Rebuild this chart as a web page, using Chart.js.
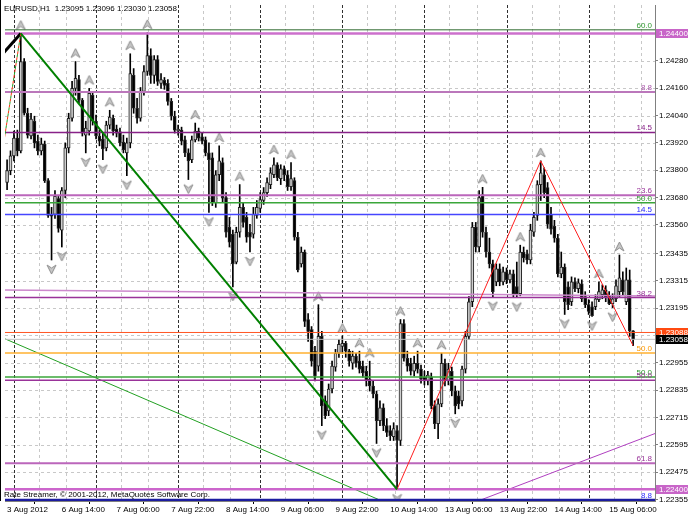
<!DOCTYPE html>
<html>
<head>
<meta charset="utf-8">
<script src="https://cdn.jsdelivr.net/npm/chart.js@4.4.1/dist/chart.umd.min.js"></script>
<style>
  html, body { margin: 0; padding: 0; background: #fff; }
  canvas { display: block; }
</style>
</head>
<body>
<canvas id="chart" width="688" height="516"></canvas>
<script>
// EURUSD H1, one entry per hourly bar (bar index 0 = 3 Aug 2012 22:00)
const opens = [
  1.23746, 1.23798, 1.23863, 1.23941, 1.23885, 1.24277, 1.24050, 1.23950, 1.24015, 1.23928,
  1.23885, 1.23915, 1.23754, 1.23606, 1.23606, 1.23676, 1.23537, 1.23711, 1.23898, 1.24028,
  1.24159, 1.24198, 1.24107, 1.23954, 1.23972, 1.24129, 1.24015, 1.23950, 1.23937, 1.23898,
  1.23998, 1.24028, 1.23981, 1.23967, 1.23924, 1.23876, 1.23920, 1.24216, 1.24072, 1.24028,
  1.24146, 1.24233, 1.24303, 1.24216, 1.24285, 1.24181, 1.24194, 1.24181, 1.24102, 1.24037,
  1.23972, 1.23976, 1.23933, 1.23876, 1.23846, 1.23933, 1.23972, 1.23946, 1.23933, 1.23876,
  1.23854, 1.23658, 1.23780, 1.23833, 1.23680, 1.23550, 1.23519, 1.23397, 1.23528, 1.23637,
  1.23593, 1.23528, 1.23519, 1.23602, 1.23632, 1.23667, 1.23702, 1.23737, 1.23780, 1.23824,
  1.23763, 1.23806, 1.23780, 1.23728, 1.23754, 1.23506, 1.23389, 1.23441, 1.23145, 1.23101,
  1.23006, 1.22940, 1.23071, 1.22788, 1.22744, 1.22840, 1.22936, 1.22997, 1.23027, 1.23040,
  1.23006, 1.22953, 1.22984, 1.22962, 1.22940, 1.22918, 1.22884, 1.22853, 1.22818, 1.22701,
  1.22757, 1.22679, 1.22657, 1.22631, 1.22657, 1.22614, 1.23127, 1.22975, 1.22953, 1.22918,
  1.22953, 1.22927, 1.22892, 1.22875, 1.22892, 1.22766, 1.22688, 1.22775, 1.22953, 1.22875,
  1.22918, 1.22831, 1.22810, 1.22788, 1.22927, 1.23071, 1.23223, 1.23550, 1.23463, 1.23693,
  1.23528, 1.23441, 1.23389, 1.23310, 1.23367, 1.23310, 1.23354, 1.23319, 1.23345, 1.23289,
  1.23258, 1.23441, 1.23432, 1.23406, 1.23528, 1.23602, 1.23737, 1.23780, 1.23724, 1.23606,
  1.23554, 1.23502, 1.23345, 1.23375, 1.23288, 1.23223, 1.23310, 1.23280, 1.23302, 1.23245,
  1.23210, 1.23201, 1.23201, 1.23232, 1.23254, 1.23275, 1.23249, 1.23214, 1.23236, 1.23267,
  1.23319, 1.23223, 1.23319, 1.23095
];
const highs = [
  1.23846, 1.23885, 1.23972, 1.23976, 1.24400, 1.24290, 1.24072, 1.24050, 1.24037, 1.23954,
  1.23941, 1.23928, 1.23763, 1.23637, 1.23711, 1.23685, 1.23724, 1.23920, 1.24050, 1.24190,
  1.24277, 1.24216, 1.24115, 1.24015, 1.24159, 1.24146, 1.24042, 1.23976, 1.23963, 1.24015,
  1.24063, 1.24042, 1.23998, 1.23985, 1.23954, 1.23941, 1.24311, 1.24246, 1.24115, 1.24163,
  1.24259, 1.24403, 1.24333, 1.24303, 1.24303, 1.24224, 1.24207, 1.24198, 1.24115, 1.24059,
  1.23998, 1.23989, 1.23950, 1.23894, 1.23950, 1.24007, 1.23985, 1.23963, 1.23946, 1.23920,
  1.23876, 1.23798, 1.23907, 1.23854, 1.23702, 1.23593, 1.23537, 1.23550, 1.23737, 1.23658,
  1.23615, 1.23563, 1.23637, 1.23667, 1.23702, 1.23724, 1.23767, 1.23811, 1.23854, 1.23833,
  1.23824, 1.23819, 1.23798, 1.23833, 1.23767, 1.23528, 1.23463, 1.23450, 1.23171, 1.23114,
  1.23027, 1.23210, 1.23093, 1.22810, 1.22862, 1.22962, 1.23014, 1.23058, 1.23071, 1.23049,
  1.23014, 1.23006, 1.22997, 1.23006, 1.22962, 1.22940, 1.22962, 1.22875, 1.22831, 1.22788,
  1.22775, 1.22710, 1.22679, 1.22692, 1.22679, 1.23145, 1.23145, 1.23006, 1.22975, 1.22984,
  1.23006, 1.22945, 1.22918, 1.22918, 1.22910, 1.22788, 1.22797, 1.22997, 1.22971, 1.22953,
  1.22936, 1.22853, 1.22831, 1.22940, 1.23093, 1.23245, 1.23571, 1.23571, 1.23711, 1.23725,
  1.23550, 1.23502, 1.23406, 1.23389, 1.23389, 1.23375, 1.23371, 1.23362, 1.23362, 1.23397,
  1.23471, 1.23463, 1.23450, 1.23563, 1.23615, 1.23754, 1.23841, 1.23811, 1.23746, 1.23637,
  1.23580, 1.23519, 1.23441, 1.23389, 1.23310, 1.23332, 1.23328, 1.23323, 1.23319, 1.23267,
  1.23232, 1.23223, 1.23254, 1.23310, 1.23297, 1.23293, 1.23267, 1.23258, 1.23319, 1.23428,
  1.23354, 1.23371, 1.23362, 1.23096
];
const lows = [
  1.23715, 1.23780, 1.23841, 1.23863, 1.23876, 1.24042, 1.23941, 1.23937, 1.23898, 1.23867,
  1.23867, 1.23746, 1.23593, 1.23406, 1.23589, 1.23528, 1.23463, 1.23680, 1.23876, 1.24015,
  1.24129, 1.24094, 1.23950, 1.23876, 1.23954, 1.23998, 1.23937, 1.23907, 1.23846, 1.23885,
  1.23981, 1.23954, 1.23946, 1.23907, 1.23876, 1.23776, 1.23898, 1.24050, 1.24007, 1.24015,
  1.24129, 1.24216, 1.24181, 1.24181, 1.24172, 1.24159, 1.24155, 1.24085, 1.24020, 1.23963,
  1.23954, 1.23911, 1.23859, 1.23759, 1.23833, 1.23924, 1.23928, 1.23915, 1.23863, 1.23615,
  1.23645, 1.23637, 1.23754, 1.23658, 1.23506, 1.23463, 1.23288, 1.23389, 1.23506, 1.23550,
  1.23484, 1.23441, 1.23502, 1.23589, 1.23615, 1.23650, 1.23685, 1.23719, 1.23767, 1.23754,
  1.23737, 1.23754, 1.23711, 1.23711, 1.23493, 1.23354, 1.23375, 1.23114, 1.23049, 1.22940,
  1.22875, 1.22918, 1.22679, 1.22710, 1.22723, 1.22823, 1.22918, 1.22979, 1.22997, 1.22979,
  1.22940, 1.22927, 1.22936, 1.22910, 1.22892, 1.22853, 1.22831, 1.22801, 1.22601, 1.22679,
  1.22657, 1.22631, 1.22614, 1.22614, 1.22400, 1.22592, 1.22962, 1.22918, 1.22901, 1.22897,
  1.22910, 1.22866, 1.22858, 1.22858, 1.22753, 1.22666, 1.22622, 1.22762, 1.22853, 1.22858,
  1.22810, 1.22731, 1.22753, 1.22766, 1.22910, 1.23058, 1.23201, 1.23441, 1.23441, 1.23506,
  1.23419, 1.23371, 1.23245, 1.23293, 1.23293, 1.23297, 1.23302, 1.23306, 1.23245, 1.23241,
  1.23249, 1.23397, 1.23389, 1.23389, 1.23510, 1.23580, 1.23667, 1.23680, 1.23545, 1.23519,
  1.23484, 1.23332, 1.23328, 1.23167, 1.23188, 1.23206, 1.23267, 1.23262, 1.23223, 1.23197,
  1.23167, 1.23158, 1.23188, 1.23223, 1.23236, 1.23223, 1.23210, 1.23197, 1.23223, 1.23245,
  1.23249, 1.23210, 1.23071, 1.23030
];
const closes = [
  1.23798, 1.23863, 1.23941, 1.23885, 1.24277, 1.24050, 1.23954, 1.24024, 1.23920, 1.23885,
  1.23915, 1.23754, 1.23602, 1.23598, 1.23685, 1.23545, 1.23711, 1.23898, 1.24028, 1.24159,
  1.24203, 1.24107, 1.23963, 1.23985, 1.24137, 1.24015, 1.23950, 1.23928, 1.23894, 1.23998,
  1.24033, 1.23972, 1.23963, 1.23920, 1.23889, 1.23920, 1.24224, 1.24072, 1.24028, 1.24146,
  1.24233, 1.24303, 1.24216, 1.24285, 1.24190, 1.24198, 1.24172, 1.24102, 1.24037, 1.23976,
  1.23981, 1.23928, 1.23876, 1.23841, 1.23933, 1.23972, 1.23941, 1.23928, 1.23876, 1.23846,
  1.23658, 1.23780, 1.23841, 1.23680, 1.23528, 1.23484, 1.23389, 1.23528, 1.23637, 1.23571,
  1.23506, 1.23506, 1.23606, 1.23637, 1.23671, 1.23702, 1.23746, 1.23789, 1.23824, 1.23767,
  1.23806, 1.23780, 1.23728, 1.23763, 1.23506, 1.23362, 1.23441, 1.23136, 1.23093, 1.22962,
  1.22897, 1.23071, 1.22766, 1.22723, 1.22840, 1.22940, 1.22997, 1.23036, 1.23040, 1.23006,
  1.22962, 1.22984, 1.22953, 1.22927, 1.22910, 1.22875, 1.22853, 1.22818, 1.22701, 1.22757,
  1.22679, 1.22649, 1.22635, 1.22666, 1.22614, 1.23127, 1.22975, 1.22940, 1.22918, 1.22953,
  1.22927, 1.22884, 1.22875, 1.22901, 1.22766, 1.22688, 1.22775, 1.22953, 1.22875, 1.22927,
  1.22831, 1.22766, 1.22775, 1.22927, 1.23071, 1.23223, 1.23550, 1.23463, 1.23680, 1.23528,
  1.23441, 1.23389, 1.23267, 1.23367, 1.23310, 1.23354, 1.23319, 1.23345, 1.23258, 1.23258,
  1.23441, 1.23415, 1.23406, 1.23537, 1.23593, 1.23737, 1.23789, 1.23702, 1.23563, 1.23541,
  1.23502, 1.23345, 1.23375, 1.23223, 1.23210, 1.23310, 1.23280, 1.23306, 1.23236, 1.23210,
  1.23180, 1.23162, 1.23236, 1.23267, 1.23275, 1.23241, 1.23214, 1.23236, 1.23293, 1.23328,
  1.23267, 1.23319, 1.23095, 1.23058
];

// fractal arrows (bar indices)
const upFractals = [4, 20, 24, 30, 36, 41, 55, 62, 68, 78, 83, 91, 98, 103, 106, 115, 120, 127, 139, 150, 156, 173, 179];
const downFractals = [13, 16, 23, 28, 35, 53, 59, 66, 71, 92, 108, 114, 131, 142, 149, 163, 171, 177];

// time axis
const tickBars = [0, 16, 32, 48, 64, 80, 96, 112, 128, 144, 160, 176];
const dateLabels = ['3 Aug 2012', '6 Aug 14:00', '7 Aug 06:00', '7 Aug 22:00', '8 Aug 14:00', '9 Aug 06:00',
  '9 Aug 22:00', '10 Aug 14:00', '13 Aug 06:00', '13 Aug 22:00', '14 Aug 14:00', '15 Aug 06:00'];
const daySeparators = [2, 26, 50, 74, 98, 122, 146, 170];
const gridBars = [9.3, 17.3, 33.3, 41.3, 57.3, 65.3, 81.3, 89.3, 105.3, 113.3, 129.3, 137.3, 153.3, 161.3, 177.3, 185.3];

// price axis
const priceTicks = [1.24280, 1.24160, 1.24040, 1.23920, 1.23800, 1.23680, 1.23560, 1.23435, 1.23315,
  1.23195, 1.23075, 1.22955, 1.22835, 1.22715, 1.22595, 1.22475, 1.22355];

// horizontal levels and their tags
const levelPrices = [1.24416, 1.24400, 1.24143, 1.23966, 1.23690, 1.23657, 1.23606, 1.23241, 1.23088,
  1.23058, 1.22998, 1.22893, 1.22878, 1.22514, 1.22400, 1.22353];
const levelTags = ['60.0', '', '8.8', '14.5', '23.6', '50.0', '14.5', '38.2', '', '', '50.0', '50.0', '50.0', '61.8', '', '8.8'];

// price boxes on the axis
const boxPrices = [1.24400, 1.23088, 1.23058, 1.22400];

// drawn trend lines [bar, price]
const mainTrend = [[4, 1.24400], [114, 1.22400]];
const zigzag = [[114, 1.22400], [156, 1.23841], [183, 1.23030]];
const thinGreen = [[-0.9, 1.23062], [112, 1.22333]];
const thinPurple = [[136, 1.22339], [190, 1.22648]];
const slopedLilac = [[-0.9, 1.23274], [189.4, 1.23248]];
const blackLeg = [[-1, 1.24316], [4, 1.24400]];
const dashedLeg = [[-1, 1.23919], [4, 1.24400]];

// styles
const levelColors = ['#2f6a2f', '#cc70cc', '#bb77bb', '#882288', '#bb66bb', '#3aa63a', '#4646ff', '#993399',
  '#ff5522', '#c0c0c0', '#ffb030', '#3aa63a', '#993399', '#bb66bb', '#cc66cc', '#1c1ca0'];
const levelWidths = [1, 2.5, 2, 1.5, 2, 1.5, 1.5, 1.5, 1, 1, 1.5, 1.5, 1.5, 2, 2.5, 2.5];
const tagColors = ['#2f9a2f', '#aa55aa', '#aa55aa', '#882288', '#993399', '#2f9a2f', '#2a2aff', '#993399',
  '', '', '#ff9900', '#2f9a2f', '#993399', '#993399', '', '#2a2aff'];
const boxColors = ['#c865c8', '#ff4a10', '#000000', '#c865c8'];

Chart.defaults.font.family = 'Liberation Sans';
Chart.defaults.font.size = 8;
Chart.defaults.color = '#000';

const pts = arr => arr.map(p => ({ x: p[0], y: p[1] }));

function arrowGlyph(up, gap) {
  const c = document.createElement('canvas');
  c.width = 11;
  c.height = (gap + 7) * 2;
  const g = c.getContext('2d');
  const cx = 5.5, cy = up ? c.height / 2 - gap : c.height / 2 + gap;
  const s = up ? 1 : -1;
  g.beginPath();
  g.moveTo(cx, cy - 5 * s);
  g.lineTo(cx + 4.5, cy + 4 * s);
  g.lineTo(cx, cy + 1 * s);
  g.lineTo(cx - 4.5, cy + 4 * s);
  g.closePath();
  g.fillStyle = '#c8c8c8';
  g.fill();
  g.strokeStyle = '#8c8c8c';
  g.lineWidth = 1;
  g.stroke();
  return c;
}

function lineSet(data, color, width, extra) {
  return Object.assign({
    type: 'line', data: data, borderColor: color, borderWidth: width,
    pointRadius: 0, fill: false, tension: 0, order: 2
  }, extra || {});
}

// no extra room for the outer tick labels
function noPadding(axis) {
  axis.paddingTop = 0;
  axis.paddingBottom = 0;
  axis.paddingLeft = 0;
  axis.paddingRight = 0;
}

const datasets = [];

// candles: wicks + bodies
datasets.push({
  type: 'bar',
  data: highs.map((h, i) => ({ x: i, y: [lows[i], h] })),
  backgroundColor: '#000',
  barThickness: 1,
  grouped: false,
  minBarLength: 1,
  order: 11
});
datasets.push({
  type: 'bar',
  data: opens.map((o, i) => ({ x: i, y: [o, closes[i]] })),
  backgroundColor: ctx => closes[ctx.dataIndex] > opens[ctx.dataIndex] ? '#cfcfcf' : '#000',
  borderColor: '#222',
  borderWidth: 1,
  borderSkipped: false,
  barThickness: 3,
  grouped: false,
  minBarLength: 1,
  order: 10
});

// fractal arrows
datasets.push({
  type: 'line', showLine: false, order: 5,
  data: upFractals.map(i => ({ x: i, y: highs[i] })),
  pointStyle: arrowGlyph(true, 8), pointRadius: 3
});
datasets.push({
  type: 'line', showLine: false, order: 5,
  data: downFractals.map(i => ({ x: i, y: lows[i] })),
  pointStyle: arrowGlyph(false, 9), pointRadius: 3
});

// horizontal levels
levelPrices.forEach((p, k) => {
  datasets.push(lineSet([{ x: -1, y: p }, { x: 191, y: p }], levelColors[k], levelWidths[k]));
});

// trend lines
datasets.push(lineSet(pts(slopedLilac), '#cc88cc', 1.5));
datasets.push(lineSet(pts(thinGreen), '#22a022', 1));
datasets.push(lineSet(pts(thinPurple), '#b040c0', 1));
datasets.push(lineSet(pts(mainTrend), '#008000', 2, { order: 1 }));
datasets.push(lineSet(pts(zigzag), '#ff2020', 1, { order: 1 }));
datasets.push(lineSet(pts(dashedLeg), '#22a022', 1, { borderDash: [3, 3], borderDashOffset: 3, order: 1 }));
datasets.push(lineSet(pts(dashedLeg), '#ff3010', 1, { borderDash: [3, 3], order: 1 }));
datasets.push(lineSet(pts(blackLeg), '#000', 3, { order: 1 }));

const mtPlugin = {
  id: 'mt',
  beforeDraw(chart) {
    const ctx = chart.ctx;
    ctx.save();
    ctx.fillStyle = '#fff';
    ctx.fillRect(0, 0, chart.width, chart.height);
    ctx.restore();
  },
  beforeDatasetsDraw(chart) {
    const { ctx, chartArea: a, scales: { x, y } } = chart;
    ctx.save();
    ctx.lineWidth = 1;
    ctx.strokeStyle = '#c8c8c8';
    ctx.setLineDash([3, 3]);
    priceTicks.forEach(v => {
      const py = Math.round(y.getPixelForValue(v)) + 0.5;
      ctx.beginPath(); ctx.moveTo(a.left, py); ctx.lineTo(a.right, py); ctx.stroke();
    });
    gridBars.forEach(b => {
      const px = Math.round(x.getPixelForValue(b)) + 0.5;
      ctx.beginPath(); ctx.moveTo(px, a.top); ctx.lineTo(px, a.bottom); ctx.stroke();
    });
    ctx.strokeStyle = '#303030';
    ctx.setLineDash([3, 2]);
    daySeparators.forEach(b => {
      const px = Math.round(x.getPixelForValue(b)) + 0.5;
      ctx.beginPath(); ctx.moveTo(px, a.top); ctx.lineTo(px, a.bottom); ctx.stroke();
    });
    ctx.restore();
  },
  afterDatasetsDraw(chart) {
    const { ctx, chartArea: a, scales: { y } } = chart;
    ctx.save();
    ctx.font = '8px "Liberation Sans"';
    ctx.textAlign = 'right';
    ctx.textBaseline = 'alphabetic';
    levelPrices.forEach((p, k) => {
      if (!levelTags[k]) return;
      const py = Math.min(y.getPixelForValue(p), a.bottom - 1);
      ctx.fillStyle = tagColors[k];
      ctx.fillText(levelTags[k], a.right - 3, py - 2);
    });
    ctx.textAlign = 'left';
    ctx.fillStyle = '#000';
    ctx.fillText('EURUSD,H1  1.23095 1.23096 1.23030 1.23058', 4, 11);
    ctx.fillText('Rate Streamer, \u00a9 2001-2012, MetaQuotes Software Corp.', 4, 497);
    ctx.restore();
  },
  afterDraw(chart) {
    const { ctx, chartArea: a, scales: { y } } = chart;
    ctx.save();
    ctx.font = '8px "Liberation Sans"';
    ctx.textBaseline = 'middle';
    ctx.textAlign = 'left';
    boxPrices.forEach((p, k) => {
      const py = Math.round(y.getPixelForValue(p));
      ctx.fillStyle = boxColors[k];
      ctx.fillRect(a.right + 1, py - 4, chart.width - a.right - 1, 9);
      ctx.fillStyle = '#fff';
      ctx.fillText(p.toFixed(5), a.right + 4, py + 0.5);
    });
    ctx.strokeStyle = '#000';
    ctx.lineWidth = 1;
    ctx.beginPath(); ctx.moveTo(0.5, 0); ctx.lineTo(0.5, a.bottom); ctx.stroke();
    ctx.restore();
  }
};

new Chart(document.getElementById('chart'), {
  type: 'bar',
  data: { datasets: datasets },
  plugins: [mtPlugin],
  options: {
    responsive: false,
    animation: false,
    devicePixelRatio: 1,
    events: [],
    layout: { padding: { left: 1, top: 1, right: 0, bottom: 0 } },
    plugins: { legend: { display: false }, tooltip: { enabled: false } },
    scales: {
      x: {
        type: 'linear',
        min: -0.61,
        max: 189.4,
        offset: false,
        afterBuildTicks: axis => { axis.ticks = tickBars.map(v => ({ value: v })); },
        afterFit: axis => { axis.height = 15; noPadding(axis); },
        ticks: {
          autoSkip: false, maxRotation: 0, align: 'start', padding: 1,
          callback: v => dateLabels[tickBars.indexOf(v)]
        },
        grid: { drawOnChartArea: false, tickLength: 3, color: '#000' },
        border: { color: '#808080' }
      },
      y: {
        type: 'linear',
        position: 'right',
        min: 1.223485,
        max: 1.24525,
        afterBuildTicks: axis => { axis.ticks = priceTicks.map(v => ({ value: v })); },
        afterFit: axis => { axis.width = 33; noPadding(axis); },
        ticks: { padding: 1, callback: v => v.toFixed(5) },
        grid: { drawOnChartArea: false, tickLength: 3, color: '#808080' },
        border: { color: '#808080' }
      }
    }
  }
});
</script>
</body>
</html>
